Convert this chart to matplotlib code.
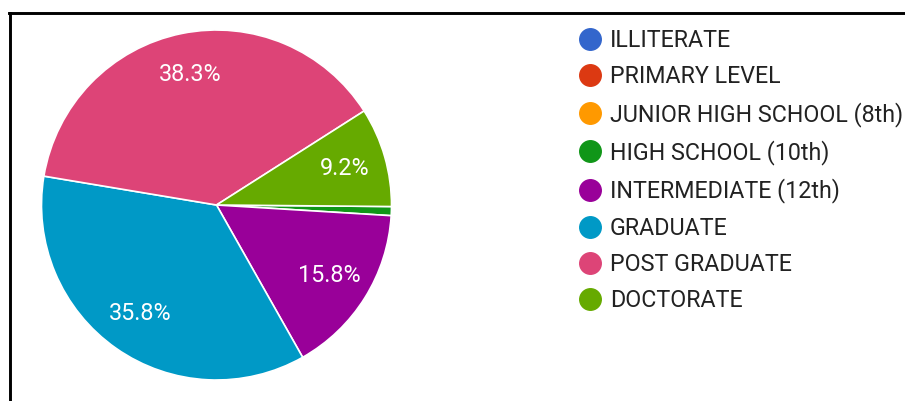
import matplotlib.pyplot as plt
from matplotlib.lines import Line2D

plt.rcParams['font.family'] = ['Roboto', 'DejaVu Sans']

# responses per education level
levels = ['ILLITERATE', 'PRIMARY LEVEL', 'JUNIOR HIGH SCHOOL (8th)', 'HIGH SCHOOL (10th)',
          'INTERMEDIATE (12th)', 'GRADUATE', 'POST GRADUATE', 'DOCTORATE']
counts = [0, 0, 0, 1, 19, 43, 46, 11]
colors = ['#3366CC', '#DC3912', '#FF9900', '#109618', '#990099', '#0099C6', '#DD4477', '#66AA00']

fig = plt.figure(figsize=(9.05, 4.01), dpi=100)

# pie centred at (216, 205) px with a 175 px radius
W, H = 905, 401
cx, cy, r = 216.5, 205, 175
ax = fig.add_axes([(cx - r) / W, (H - cy - r) / H, 2 * r / W, 2 * r / H])


def pct_label(p):
    return f'{p:.1f}%' if p >= 5 else ''


wedges, texts, autotexts = ax.pie(counts, colors=colors, startangle=-0.5, counterclock=False,
                                  autopct=pct_label, pctdistance=0.76,
                                  wedgeprops=dict(edgecolor='white', linewidth=1.2),
                                  textprops=dict(color='white', fontsize=16.8))
ax.set_xlim(-1, 1)
ax.set_ylim(-1, 1)
ax.set_aspect('equal')

handles = [Line2D([], [], marker='o', linestyle='none', markersize=15.5,
                  markerfacecolor=c, markeredgecolor=c) for c in colors]
fig.legend(handles, levels, loc='upper left', bbox_to_anchor=(574 / W, 1 - 29 / H),
           frameon=False, fontsize=16.75, labelcolor='#222222', handletextpad=0.15,
           labelspacing=0.575, handlelength=1.4, borderpad=0, borderaxespad=0)

# frame lines along the top and left edge
fig.add_artist(Line2D([9.5 / W, 9.5 / W], [0, 1 - 12.5 / H], color='black', linewidth=2.1))
fig.add_artist(Line2D([8.5 / W, 1], [1 - 12.5 / H, 1 - 12.5 / H], color='black', linewidth=2.1))

fig.savefig('out.png', dpi=100)
